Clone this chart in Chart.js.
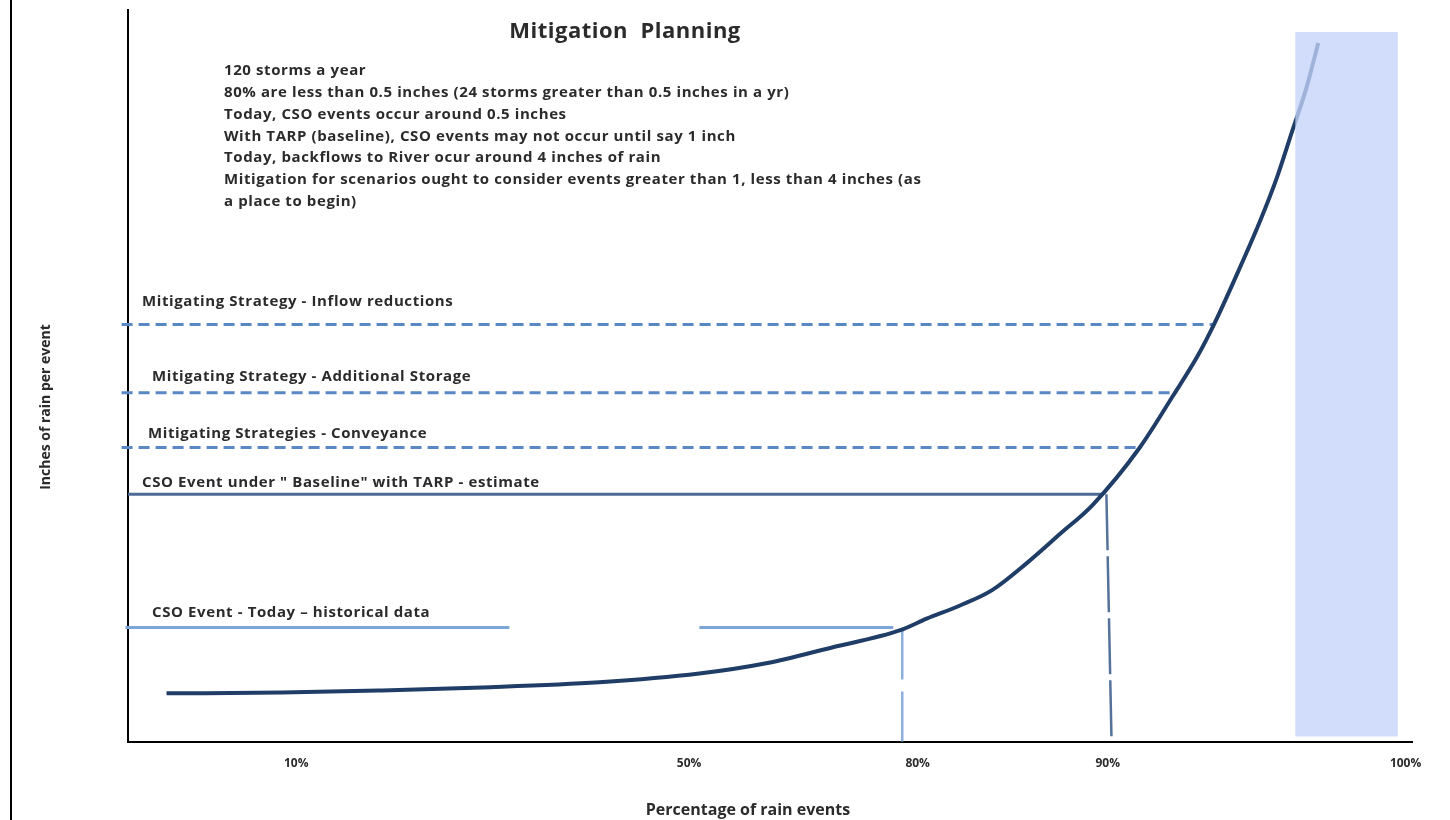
<!DOCTYPE html>
<html>
<head>
<meta charset="utf-8">
<title>Mitigation Planning</title>
<script src="https://cdn.jsdelivr.net/npm/chart.js@4.4.1/dist/chart.umd.min.js"></script>
<style>
  html, body { margin: 0; padding: 0; background: #fff; }
  #wrap { position: relative; width: 1450px; height: 820px; }
  #edge { position: absolute; left: 10px; top: 0; width: 2px; height: 820px; background: #000; }
  #mitigation { position: absolute; left: 0; top: 0; }
</style>
</head>
<body>
<div id="wrap">
  <div id="edge"></div>
  <canvas id="mitigation" width="1450" height="820"></canvas>
</div>
<script>
// schematic curve: x = position along the event axis, y = inches of rain (relative)
const curveX = [3.0, 12.0, 19.8, 27.6, 36.7, 44.5, 49.7, 54.9, 60.1, 62.2, 64.8, 67.3, 70.0, 72.6, 75.1, 78.8, 81.4, 83.3, 84.6, 86.6, 88.2, 89.5, 90.7, 91.8, 92.7];
const curveY = [6.6, 6.7, 7.0, 7.4, 8.1, 9.3, 10.7, 12.9, 15.2, 16.8, 18.6, 20.7, 24.4, 28.4, 32.3, 40.2, 47.3, 52.7, 57.1, 64.8, 71.3, 77.2, 83.6, 89.5, 95.5];

const tickPositions = [13.1, 43.7, 61.5, 76.3, 99.5];
const tickLabels = ['10%', '50%', '80%', '90%', '100%'];

const strategyNames = ['Mitigating Strategy - Inflow reductions', 'Mitigating Strategy - Additional Storage', 'Mitigating Strategies - Conveyance'];
const strategyLevels = [57.0, 47.7, 40.2];
const strategyEnds = [84.6, 81.2, 78.8];
const lineStart = -0.5;

const baselineName = 'CSO Event under " Baseline" with TARP - estimate';
const baselineLevel = 33.8;
const baselineEnd = 75.8;
const baselineDropX = [76.2, 76.6];

const todayName = 'CSO Event - Today \u2013 historical data';
const todayLevel = 15.6;
const todayStarts = [-0.2, 44.5];
const todayEnds = [29.7, 59.6];
const todayDropX = [60.3, 60.3];

const shadeX = [90.9, 98.9];
const shadeY = [0.7, 97.0];

const noteLines = [
  '120 storms a year',
  '80% are less than 0.5 inches (24 storms greater than 0.5 inches in a yr)',
  'Today, CSO events occur around 0.5 inches',
  'With TARP (baseline), CSO events may not occur until say 1 inch',
  'Today, backflows to River ocur around 4 inches of rain',
  'Mitigation for scenarios ought to consider events greater than 1, less than 4 inches (as',
  'a place to begin)'
];

// label placement in pixels, relative to chart area left edge / line
const labelDx = [14, 24, 20];
const labelDy = [23, 16, 14];

const textColor = '#2b2b2b';
const fontFamily = '"Open Sans", "Liberation Sans", sans-serif';

const lineLabelsPlugin = {
  id: 'lineLabels',
  afterDatasetsDraw(chart) {
    const { ctx, chartArea, scales } = chart;
    const y = scales.y;
    ctx.save();
    ctx.fillStyle = textColor;
    ctx.textBaseline = 'middle';

    ctx.font = 'bold 22px ' + fontFamily;
    ctx.letterSpacing = '0.5px';
    ctx.textAlign = 'center';
    ctx.fillText('Mitigation  Planning', 625, 32);

    ctx.textAlign = 'left';
    ctx.font = 'bold 15px ' + fontFamily;
    ctx.letterSpacing = '0.6px';
    noteLines.forEach((line, i) => {
      ctx.fillText(line, 224, 71 + i * 21.8);
    });

    strategyNames.forEach((name, i) => {
      ctx.fillText(name, chartArea.left + labelDx[i], y.getPixelForValue(strategyLevels[i]) - labelDy[i]);
    });
    ctx.fillText(baselineName, chartArea.left + 14, y.getPixelForValue(baselineLevel) - 12);
    ctx.fillText(todayName, chartArea.left + 24, y.getPixelForValue(todayLevel) - 15);

    // axis titles
    ctx.letterSpacing = '0px';
    ctx.textAlign = 'center';
    ctx.font = 'bold 16px ' + fontFamily;
    ctx.fillText('Percentage of rain events', 748, 810);

    ctx.font = 'bold 14px ' + fontFamily;
    ctx.translate(46, 407);
    ctx.rotate(-Math.PI / 2);
    ctx.fillText('Inches of rain per event', 0, 0);
    ctx.restore();
  }
};

function segment(x0, x1, level) {
  return [{ x: x0, y: level }, { x: x1, y: level }];
}

const strategyDatasets = strategyNames.map((name, i) => ({
  label: name,
  data: segment(lineStart, strategyEnds[i], strategyLevels[i]),
  borderColor: '#5a88c4',
  borderWidth: 3,
  borderDash: [11, 6],
  order: 5
}));

const todayData = [];
todayStarts.forEach((start, i) => {
  if (i > 0) todayData.push({ x: (todayEnds[i - 1] + start) / 2, y: null });
  todayData.push({ x: start, y: todayLevel }, { x: todayEnds[i], y: todayLevel });
});

const chart = new Chart(document.getElementById('mitigation'), {
  type: 'line',
  data: {
    datasets: [
      {
        label: 'shade',
        data: [{ x: shadeX[0], y: shadeY[1] }, { x: shadeX[1], y: shadeY[1] }],
        fill: { value: shadeY[0] },
        backgroundColor: 'rgba(196, 211, 250, 0.78)',
        borderWidth: 0,
        order: 0
      },
      {
        label: 'Inches of rain per event',
        data: curveX.map((x, i) => ({ x: x, y: curveY[i] })),
        borderColor: '#1f3d66',
        borderWidth: 4,
        cubicInterpolationMode: 'monotone',
        order: 1
      },
      ...strategyDatasets,
      {
        label: baselineName,
        data: segment(0, baselineEnd, baselineLevel),
        borderColor: '#4d6b94',
        borderWidth: 3,
        order: 5
      },
      {
        label: 'baseline drop',
        data: [{ x: baselineDropX[0], y: baselineLevel }, { x: baselineDropX[1], y: 0 }],
        borderColor: '#55729a',
        borderWidth: 2.5,
        borderDash: [56, 6],
        order: 5
      },
      {
        label: todayName,
        data: todayData,
        borderColor: '#7ea5d8',
        borderWidth: 3,
        spanGaps: false,
        order: 5
      },
      {
        label: 'today drop',
        data: [{ x: todayDropX[0], y: todayLevel }, { x: todayDropX[1], y: 0 }],
        borderColor: '#8fb0dc',
        borderWidth: 2.5,
        borderDash: [52, 12],
        order: 5
      }
    ]
  },
  options: {
    responsive: false,
    devicePixelRatio: 1,
    animation: false,
    layout: { padding: { left: 128, right: 38, top: 10, bottom: 34 } },
    datasets: { line: { pointRadius: 0, clip: false, fill: false } },
    plugins: { legend: { display: false }, tooltip: { enabled: false } },
    scales: {
      x: {
        type: 'linear',
        min: 0,
        max: 100,
        grid: { display: false, drawTicks: false },
        border: { color: '#000', width: 2 },
        afterBuildTicks: (scale) => {
          scale.ticks = tickPositions.map((v) => ({ value: v }));
        },
        ticks: {
          callback: (value, index) => tickLabels[index],
          autoSkip: false,
          maxRotation: 0,
          padding: 15,
          color: textColor,
          font: { family: fontFamily, size: 12, weight: 'bold' }
        },
        title: { display: false }
      },
      y: {
        min: 0,
        max: 100,
        grid: { display: false, drawTicks: false },
        border: { color: '#000', width: 2 },
        ticks: { display: false },
        title: { display: false }
      }
    }
  },
  plugins: [lineLabelsPlugin]
});
</script>
</body>
</html>
